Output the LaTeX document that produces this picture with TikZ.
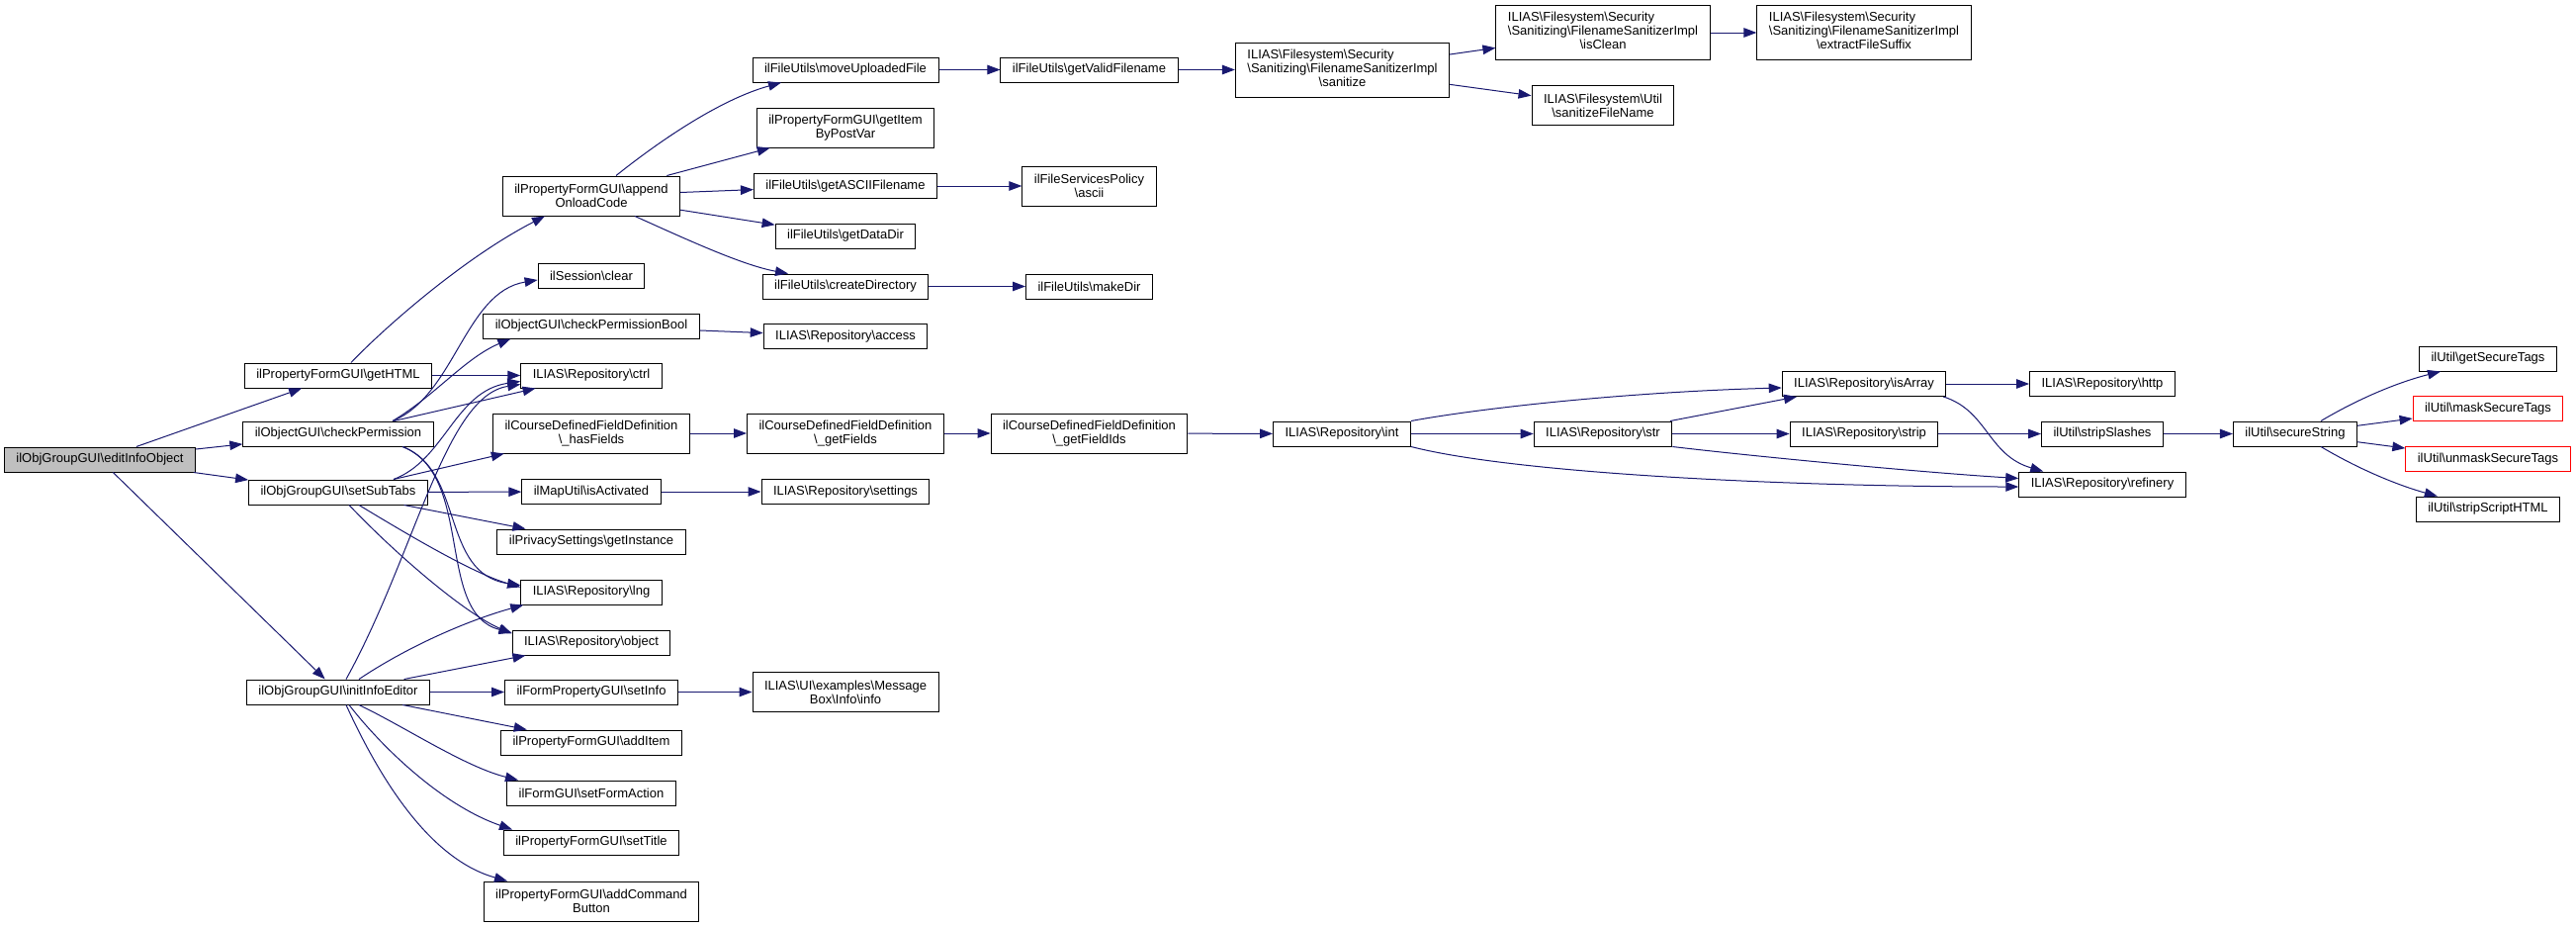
\documentclass[tikz,border=0pt]{standalone}
\usepackage{fontspec}
\setmainfont{Liberation Sans}
\usetikzlibrary{arrows.meta}

\newlength{\du}
\setlength{\du}{1pt}
\newcommand{\bs}{\textbackslash}
\newcommand{\graphfont}{\fontsize{13}{14}\selectfont}
\definecolor{edgecolor}{rgb}{0.098039, 0.098039, 0.439216}
\definecolor{rootfill}{rgb}{0.749020, 0.749020, 0.749020}
\definecolor{redline}{rgb}{1.000000, 0.000000, 0.000000}

\tikzset{
  fn/.style={draw=black, fill=white, line width=1\du, inner xsep=12\du, inner ysep=0\du,
    minimum height=25\du, font=\graphfont, align=center},
  fn2/.style={fn, minimum height=40\du},
  fn3/.style={fn, minimum height=55\du},
  rootfn/.style={fn, fill=rootfill},
  redfn/.style={fn, draw=redline},
  call/.style={draw=edgecolor, line width=1\du, -{Triangle[length=13pt,width=9.5pt]}},
}

\begin{document}
\begin{tikzpicture}[x=1\du, y=-1\du]
\useasboundingbox (0,0) rectangle (2605,937);
% nodes, column by column
\node[rootfn] (editinfo) at (101,464.5) {ilObjGroupGUI\bs editInfoObject};
\node[fn] (gethtml) at (342,379.5) {ilPropertyFormGUI\bs getHTML};
\node[fn] (checkperm) at (342,438.5) {ilObjectGUI\bs checkPermission};
\node[fn] (setsubtabs) at (342,497.5) {ilObjGroupGUI\bs setSubTabs};
\node[fn] (initinfo) at (342,699.5) {ilObjGroupGUI\bs initInfoEditor};
\node[fn2] (append) at (598,198) {ilPropertyFormGUI\bs append\\OnloadCode};
\node[fn] (clear) at (598,278.5) {ilSession\bs clear};
\node[fn] (permbool) at (598,329.5) {ilObjectGUI\bs checkPermissionBool};
\node[fn] (ctrl) at (598,379.5) {ILIAS\bs Repository\bs ctrl};
\node[fn2] (hasfields) at (598,438) {ilCourseDefinedFieldDefinition\\\bs\_hasFields};
\node[fn] (isactivated) at (598,497) {ilMapUtil\bs isActivated};
\node[fn] (getinstance) at (598,547.5) {ilPrivacySettings\bs getInstance};
\node[fn] (lng) at (598,598.5) {ILIAS\bs Repository\bs lng};
\node[fn] (object) at (598,649.5) {ILIAS\bs Repository\bs object};
\node[fn] (setinfo) at (598,699.5) {ilFormPropertyGUI\bs setInfo};
\node[fn] (additem) at (598,750.5) {ilPropertyFormGUI\bs addItem};
\node[fn] (setformaction) at (598,801.5) {ilFormGUI\bs setFormAction};
\node[fn] (settitle) at (598,851.5) {ilPropertyFormGUI\bs setTitle};
\node[fn2] (addbutton) at (598,911) {ilPropertyFormGUI\bs addCommand\\Button};
\node[fn] (moveupload) at (855,70.5) {ilFileUtils\bs moveUploadedFile};
\node[fn2] (getitem) at (855,129) {ilPropertyFormGUI\bs getItem\\ByPostVar};
\node[fn] (getascii) at (855,188) {ilFileUtils\bs getASCIIFilename};
\node[fn] (getdatadir) at (855,238.5) {ilFileUtils\bs getDataDir};
\node[fn] (createdir) at (855,289.5) {ilFileUtils\bs createDirectory};
\node[fn] (access) at (855,340) {ILIAS\bs Repository\bs access};
\node[fn2] (getfields) at (855,438) {ilCourseDefinedFieldDefinition\\\bs\_getFields};
\node[fn] (settings) at (855,497) {ILIAS\bs Repository\bs settings};
\node[fn2] (msginfo) at (855,699.5) {ILIAS\bs UI\bs examples\bs Message\\Box\bs Info\bs info};
\node[fn] (validname) at (1101.5,70.5) {ilFileUtils\bs getValidFilename};
\node[fn2] (policyascii) at (1101.5,188) {ilFileServicesPolicy\\\bs ascii};
\node[fn] (makedir) at (1101.5,289.5) {ilFileUtils\bs makeDir};
\node[fn2] (getfieldids) at (1101.5,438) {ilCourseDefinedFieldDefinition\\\bs\_getFieldIds};
\node[fn3] (sanitize) at (1357.5,70.5) {\begin{tabular}{@{}l@{}}ILIAS\bs Filesystem\bs Security\\\bs Sanitizing\bs FilenameSanitizerImpl\\\multicolumn{1}{@{}c@{}}{\bs sanitize}\end{tabular}};
\node[fn] (int) at (1357,438.5) {ILIAS\bs Repository\bs int};
\node[fn3] (isclean) at (1621,33) {\begin{tabular}{@{}l@{}}ILIAS\bs Filesystem\bs Security\\\bs Sanitizing\bs FilenameSanitizerImpl\\\multicolumn{1}{@{}c@{}}{\bs isClean}\end{tabular}};
\node[fn2] (sanitizename) at (1621,106.5) {ILIAS\bs Filesystem\bs Util\\\bs sanitizeFileName};
\node[fn] (str) at (1621,438.5) {ILIAS\bs Repository\bs str};
\node[fn3] (suffix) at (1885,33) {\begin{tabular}{@{}l@{}}ILIAS\bs Filesystem\bs Security\\\bs Sanitizing\bs FilenameSanitizerImpl\\\multicolumn{1}{@{}c@{}}{\bs extractFileSuffix}\end{tabular}};
\node[fn] (isarray) at (1885,388) {ILIAS\bs Repository\bs isArray};
\node[fn] (strip) at (1885,438.5) {ILIAS\bs Repository\bs strip};
\node[fn] (http) at (2126,388) {ILIAS\bs Repository\bs http};
\node[fn] (stripslashes) at (2126,438.5) {ilUtil\bs stripSlashes};
\node[fn] (refinery) at (2126,489.5) {ILIAS\bs Repository\bs refinery};
\node[fn] (securestring) at (2321,438.5) {ilUtil\bs secureString};
\node[fn] (gettags) at (2516,362.5) {ilUtil\bs getSecureTags};
\node[redfn] (masktags) at (2516,413) {ilUtil\bs maskSecureTags};
\node[redfn] (unmasktags) at (2516,464) {ilUtil\bs unmaskSecureTags};
\node[fn] (scripthtml) at (2516,514.5) {ilUtil\bs stripScriptHTML};
% calls from editInfoObject
\draw[call] (editinfo) -- (gethtml);
\draw[call] (editinfo) -- (checkperm);
\draw[call] (editinfo) -- (setsubtabs);
\draw[call] (editinfo) -- (initinfo);
% getHTML
\draw[call] ([xshift=13\du]gethtml.north) .. controls (390,330) and (470,260) .. ([xshift=-47\du]append.south);
\draw[call] (gethtml) -- (ctrl);
% checkPermission
\draw[call] ([xshift=55\du]checkperm.north) .. controls (460,400) and (470,295) .. ([yshift=-4.5\du]clear.west);
\draw[call] ([xshift=55\du]checkperm.north) .. controls (440,400) and (470,362) .. ([xshift=28\du]permbool.south west);
\draw[call] (checkperm) -- (ctrl);
\draw[call] ([xshift=65\du]checkperm.south) .. controls (470,475) and (445,580) .. ([yshift=7\du]lng.west);
\draw[call] ([xshift=65\du]checkperm.south) .. controls (480,480) and (440,620) .. ([yshift=10\du]object.west);
% setSubTabs
\draw[call] ([xshift=56\du]setsubtabs.north) .. controls (450,465) and (460,395) .. ([yshift=-6\du]ctrl.west);
\draw[call] (setsubtabs) -- (hasfields);
\draw[call] (setsubtabs) -- (isactivated);
\draw[call] (setsubtabs) -- (getinstance);
\draw[call] ([xshift=21\du]setsubtabs.south) .. controls (420,545) and (480,580) .. ([yshift=5\du]lng.west);
\draw[call] ([xshift=11\du]setsubtabs.south) .. controls (400,560) and (470,620) .. ([yshift=9\du]object.west);
% initInfoEditor
\draw[call] ([xshift=8\du]initinfo.north) .. controls (420,560) and (450,400) .. ([yshift=-9\du]ctrl.west);
\draw[call] ([xshift=21\du]initinfo.north) .. controls (410,655) and (470,628) .. ([xshift=3\du]lng.south west);
\draw[call] (initinfo) -- (object);
\draw[call] (initinfo) -- (setinfo);
\draw[call] (initinfo) -- (additem);
\draw[call] ([xshift=21\du]initinfo.south) .. controls (410,735) and (470,775) .. ([xshift=-74\du]setformaction.north);
\draw[call] ([xshift=11\du]initinfo.south) .. controls (390,760) and (450,815) .. ([xshift=-80\du]settitle.north);
\draw[call] ([xshift=8\du]initinfo.south) .. controls (390,800) and (440,870) .. ([xshift=-85\du]addbutton.north);
% appendOnloadCode
\draw[call] ([xshift=25\du]append.north) .. controls (670,140) and (730,100) .. ([xshift=-65\du]moveupload.south);
\draw[call] (append) -- (getitem);
\draw[call] (append) -- (getascii);
\draw[call] (append) -- (getdatadir);
\draw[call] ([xshift=44\du]append.south) .. controls (690,240) and (750,268) .. ([xshift=-58\du]createdir.north);
% further right
\draw[call] (moveupload) -- (validname);
\draw[call] (validname) -- (sanitize);
\draw[call] (sanitize) -- (isclean);
\draw[call] (sanitize) -- (sanitizename);
\draw[call] (isclean) -- (suffix);
\draw[call] (getascii) -- (policyascii);
\draw[call] (createdir) -- (makedir);
\draw[call] (permbool) -- (access);
\draw[call] (hasfields) -- (getfields);
\draw[call] (getfields) -- (getfieldids);
\draw[call] (getfieldids) -- (int);
\draw[call] (isactivated) -- (settings);
\draw[call] (setinfo) -- (msginfo);
% repository helpers
\draw[call] (int.north east) .. controls (1500,412) and (1650,396) .. ([yshift=-4\du]isarray.west);
\draw[call] (int) -- (str);
\draw[call] (int.south east) .. controls (1530,478) and (1800,492) .. ([yshift=-2.5\du]refinery.west);
\draw[call] (str) -- (isarray);
\draw[call] (str) -- (strip);
\draw[call] (str.south east) .. controls (1780,462) and (1950,478) .. ([yshift=6\du]refinery.west);
\draw[call] (isarray) -- (http);
\draw[call] ([xshift=-3\du]isarray.south east) .. controls (2010,415) and (2010,460) .. ([xshift=25\du]refinery.north west);
\draw[call] (strip) -- (stripslashes);
\draw[call] (stripslashes) -- (securestring);
% secureString
\draw[call] ([xshift=26\du]securestring.north) .. controls (2390,400) and (2430,385) .. ([xshift=22\du]gettags.south west);
\draw[call] (securestring) -- (masktags);
\draw[call] (securestring) -- (unmasktags);
\draw[call] ([xshift=26\du]securestring.south) .. controls (2390,477) and (2430,492) .. ([xshift=22\du]scripthtml.north west);
\end{tikzpicture}
\end{document}
